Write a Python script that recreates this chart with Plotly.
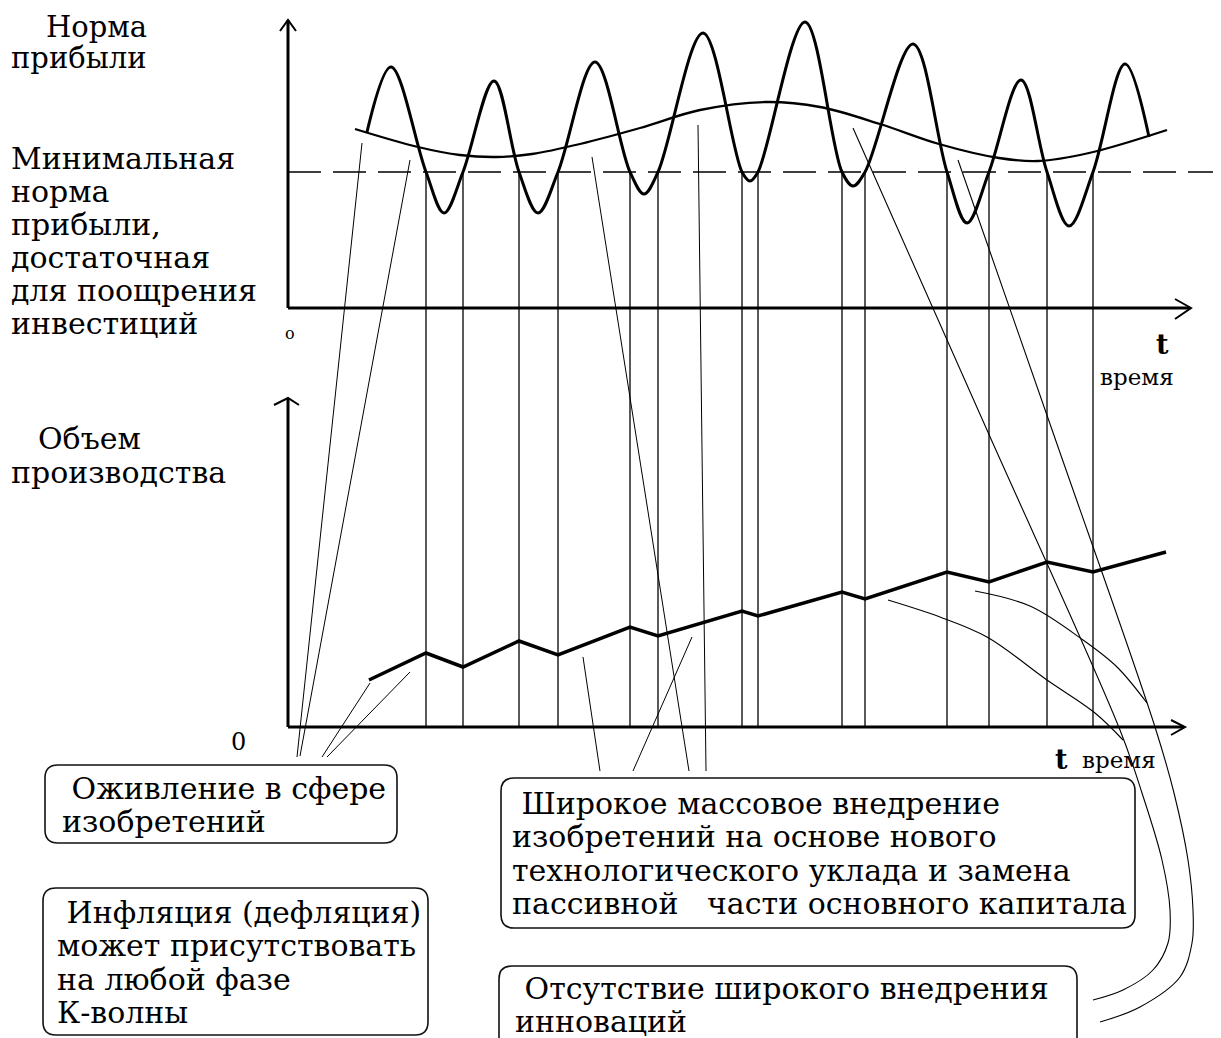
import plotly.graph_objects as go

W, H = 1221, 1038
OFF = 8  # default page margin of the browser body

# ---------------- data ----------------
# time in arbitrary units; profit rate and output in arbitrary units
MIN_RATE = 13.6                      # minimal profit rate (dashed line)

# moments where the short wave crosses the minimal rate (also turning points of output)
T_CROSS = [13.8, 17.5, 23.1, 27.0, 34.2, 37.0, 45.4, 47.0, 55.4, 57.7, 65.9, 70.1, 75.9, 80.5]

# short profit-rate wave: start, peaks / troughs, end
FAST_T = [7.9, 10.3, 15.6, 20.6, 25.0, 30.7, 35.6, 41.5, 46.2, 51.7, 56.5, 62.5, 67.9, 73.3, 78.1, 83.7, 86.1]
FAST_V = [17.6, 24.1, 9.5, 22.7, 9.5, 24.6, 11.4, 27.5, 12.7, 28.6, 12.2, 26.4, 8.5, 22.8, 8.2, 24.4, 17.1]

# long (K-wave) profit-rate wave
SLOW_T = [6.7, 13.0, 17.2, 20.8, 24.4, 29.2, 35.2, 41.2, 47.8, 53.2, 59.2, 65.1, 71.1, 75.0, 80.1, 87.9]
SLOW_V = [17.9, 16.1, 15.3, 15.1, 15.4, 16.4, 18.0, 19.8, 20.6, 20.1, 18.4, 16.4, 15.0, 14.7, 15.5, 17.8]

# output volume (zig-zag)
OUT_T = [8.1, 13.8, 17.5, 23.1, 27.0, 34.2, 37.0, 45.4, 47.0, 55.4, 57.7, 65.9, 70.1, 75.9, 80.5, 87.8]
OUT_V = [4.7, 7.4, 6.0, 8.6, 7.2, 10.0, 9.1, 11.6, 11.1, 13.5, 12.8, 15.5, 14.5, 16.5, 15.5, 17.5]

# text
LABEL_RATE = ["Норма", "прибыли"]
LABEL_MIN = ["Минимальная", "норма", "прибыли,", "достаточная", "для поощрения", "инвестиций"]
LABEL_OUT = ["Объем", "производства"]
BOX1 = [" Оживление в сфере", "изобретений"]
BOX2 = [" Инфляция (дефляция)", "может присутствовать", "на любой фазе", "К-волны"]
BOX3 = [" Широкое массовое внедрение", "изобретений на основе нового",
        "технологического уклада и замена", "пассивной   части основного капитала"]
BOX4 = [" Отсутствие широкого внедрения", "инноваций"]

# ---------------- layout geometry (pixels of the drawing) ----------------
ORIGIN_X, ORIGIN_Y_TOP, ORIGIN_Y_BOT, PX = 288, 308, 727, 10.0
X_RANGE = [(OFF - ORIGIN_X) / PX, (W - ORIGIN_X) / PX]
Y_RANGE = [(ORIGIN_Y_TOP - H) / PX, (ORIGIN_Y_TOP - OFF) / PX]
Y2_RANGE = [(ORIGIN_Y_BOT - H) / PX, (ORIGIN_Y_BOT - OFF) / PX]
X_END_TOP, X_END_BOT = 90.2, 89.6
Y_TOP, Y2_TOP = 28.8, 32.8

SERIF = "DejaVu Serif"
FS = 30
INK = "#000000"


def out_to_rate(o):
    return Y_RANGE[0] + (o - Y2_RANGE[0]) * (Y_RANGE[1] - Y_RANGE[0]) / (Y2_RANGE[1] - Y2_RANGE[0])


fig = go.Figure()

# minimal profit rate (dashed)
fig.add_trace(go.Scatter(x=[0, X_RANGE[1]], y=[MIN_RATE, MIN_RATE], mode="lines",
                         line=dict(color=INK, width=1.4, dash="33px,12px"), xaxis="x", yaxis="y"))

# vertical guide lines
vx, vy = [], []
for t in T_CROSS:
    vx += [t, t, None]
    vy += [MIN_RATE, out_to_rate(0), None]
fig.add_trace(go.Scatter(x=vx, y=vy, mode="lines", line=dict(color=INK, width=1.3),
                         xaxis="x", yaxis="y"))

# long wave
fig.add_trace(go.Scatter(x=SLOW_T, y=SLOW_V, mode="lines", line=dict(color=INK, width=2.3, shape="spline"),
                         xaxis="x", yaxis="y"))

# short wave: extremes merged with the crossing points
pts = sorted(list(zip(FAST_T, FAST_V)) + [(t, MIN_RATE) for t in T_CROSS])
fig.add_trace(go.Scatter(x=[p[0] for p in pts], y=[p[1] for p in pts], mode="lines",
                         line=dict(color=INK, width=3, shape="spline", smoothing=1.0),
                         xaxis="x", yaxis="y"))

# output
fig.add_trace(go.Scatter(x=OUT_T, y=OUT_V, mode="lines", line=dict(color=INK, width=3.5),
                         xaxis="x", yaxis="y2"))

shapes = []
# axes
shapes.append(dict(type="line", xref="x", yref="y", x0=0, y0=0, x1=0, y1=Y_TOP, line=dict(color=INK, width=3)))
shapes.append(dict(type="line", xref="x", yref="y", x0=0, y0=0, x1=X_END_TOP, y1=0, line=dict(color=INK, width=3)))
shapes.append(dict(type="line", xref="x", yref="y2", x0=0, y0=0, x1=0, y1=Y2_TOP, line=dict(color=INK, width=3)))
shapes.append(dict(type="line", xref="x", yref="y2", x0=0, y0=0, x1=X_END_BOT, y1=0, line=dict(color=INK, width=3)))

# decorations in a pixel overlay (x2 / y3)
ARROWS = [
    [(280, 31), (288, 20), (296, 31)],
    [(1175, 299), (1191, 308), (1175, 319)],
    [(274, 405), (288, 398), (299, 405)],
    [(1171, 720), (1185, 727), (1171, 735)],
]
for a in ARROWS:
    path = "M{},{} L{},{} L{},{}".format(a[0][0], a[0][1], a[1][0], a[1][1], a[2][0], a[2][1])
    shapes.append(dict(type="path", xref="x2", yref="y3", path=path, line=dict(color=INK, width=2)))


def rrect(x0, y0, x1, y1, r=13):
    return (f"M{x0+r},{y0} L{x1-r},{y0} Q{x1},{y0} {x1},{y0+r} L{x1},{y1-r} Q{x1},{y1} {x1-r},{y1} "
            f"L{x0+r},{y1} Q{x0},{y1} {x0},{y1-r} L{x0},{y0+r} Q{x0},{y0} {x0+r},{y0} Z")


BOX_RECTS = [(45, 765, 397, 843), (43, 888, 428, 1035), (501, 778, 1135, 928), (499, 966, 1077, 1060)]
for b in BOX_RECTS:
    shapes.append(dict(type="path", xref="x2", yref="y3", path=rrect(*b), line=dict(color="#111", width=1.6)))

# leader lines
LEADERS = [
    [(297, 757), (362, 143)],
    [(300, 756), (410, 160)],
    [(322, 757), (370, 683)],
    [(327, 757), (410, 672)],
    [(600, 771), (583, 657)],
    [(633, 771), (692, 637)],
    [(689, 771), (592, 157)],
    [(706, 771), (698, 125)],
]
CURVES = [
    [(853, 128), (987, 430), (1120, 730), (1142, 793), (1162, 860), (1170, 910), (1168, 943), (1153, 970), (1123, 990), (1093, 1000)],
    [(958, 160), (1057, 444), (1155, 727), (1174, 793), (1188, 860), (1193, 910), (1192, 943), (1180, 977), (1140, 1007), (1100, 1022)],
    [(888, 600), (940, 617), (987, 637), (1047, 680), (1095, 713), (1123, 740)],
    [(975, 591), (1030, 606), (1083, 640), (1117, 667), (1147, 703)],
]
lx, ly = [], []
for seg in LEADERS:
    lx += [p[0] for p in seg] + [None]
    ly += [p[1] for p in seg] + [None]
fig.add_trace(go.Scatter(x=lx, y=ly, mode="lines", line=dict(color=INK, width=1), xaxis="x2", yaxis="y3"))
for c in CURVES:
    fig.add_trace(go.Scatter(x=[p[0] for p in c], y=[p[1] for p in c], mode="lines",
                             line=dict(color=INK, width=1.1, shape="spline"), xaxis="x2", yaxis="y3"))

annots = []


def txt(s, x, y, size=FS, family=SERIF, anchor="left"):
    annots.append(dict(text=s, x=x, y=y, xref="x2", yref="y3", xanchor=anchor, yanchor="middle",
                       showarrow=False, font=dict(family=family, size=size, color=INK)))


txt(LABEL_RATE[0], 44, 27, size=29)
txt(LABEL_RATE[1], 9, 58, size=29)
for i, s in enumerate(LABEL_MIN):
    txt(s, 9, 158 + i * 33)
txt(LABEL_OUT[0], 36, 438)
txt(LABEL_OUT[1], 9, 472)
for lines, x0, y0 in [(BOX1, 60, 788), (BOX2, 55, 912), (BOX3, 510, 803), (BOX4, 513, 988)]:
    for i, s in enumerate(lines):
        txt(s, x0, y0 + i * 33.5)

txt("o", 283, 333, size=16)
txt("0", 238, 742, size=24, anchor="center")
annots.append(dict(text="<b>t</b>", x=1162, y=344, xref="x2", yref="y3", showarrow=False,
                   font=dict(family=SERIF, size=27, color=INK)))
txt("время", 1098, 377, size=23)
annots.append(dict(text="<b>t</b>", x=1061, y=759, xref="x2", yref="y3", showarrow=False,
                   font=dict(family=SERIF, size=27, color=INK)))
txt("время", 1080, 760, size=23)

ax_hidden = dict(visible=False, showgrid=False, zeroline=False, fixedrange=True)
fig.update_layout(
    width=W - OFF, height=H - OFF, autosize=False,
    margin=dict(l=0, r=0, t=0, b=0),
    paper_bgcolor="white", plot_bgcolor="white",
    showlegend=False,
    xaxis=dict(range=X_RANGE, domain=[0, 1], **ax_hidden),
    yaxis=dict(range=Y_RANGE, domain=[0, 1], **ax_hidden),
    yaxis2=dict(range=Y2_RANGE, overlaying="y", anchor="x", **ax_hidden),
    xaxis2=dict(range=[OFF, W], overlaying="x", anchor="y3", **ax_hidden),
    yaxis3=dict(range=[H, OFF], overlaying="y", anchor="x2", **ax_hidden),
    shapes=shapes,
    annotations=annots,
)

fig.write_html("out.html", config={"displayModeBar": False})
